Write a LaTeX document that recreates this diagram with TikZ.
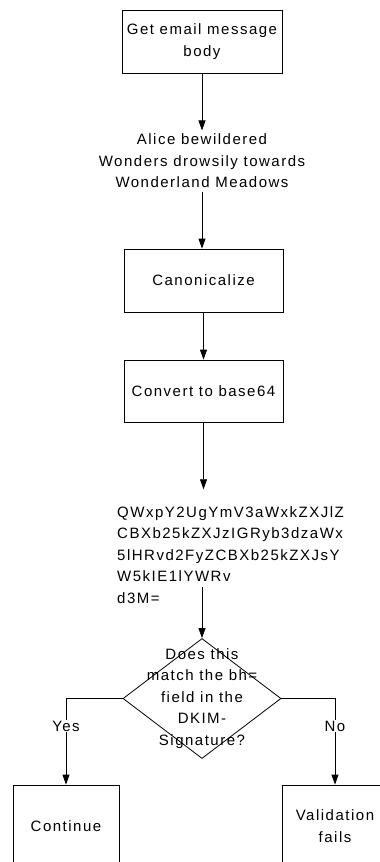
\documentclass[tikz,border=0pt]{standalone}
\usepackage{fontspec}
\setmainfont{Liberation Sans}[LetterSpace=10]
\usetikzlibrary{arrows.meta,shapes.geometric}
\tikzstyle{Step}=[rectangle, minimum width=160, minimum height=63, align=center, draw=black, line width=0.8pt]
\tikzstyle{Decision}=[diamond, minimum width=158, minimum height=120, inner sep=0, draw=black, line width=0.8pt]
\tikzstyle{Result}=[rectangle, minimum width=106, minimum height=82, align=center, draw=black, line width=0.8pt]
\tikzstyle{Flow}=[-{Triangle[length=10pt,width=7pt]}, line width=0.8pt]
\begin{document}
\begin{tikzpicture}[x=1pt, y=-1pt, font=\fontsize{15}{21.5}\selectfont]
    \useasboundingbox (0,0) rectangle (380,862);
    \clip (0,0) rectangle (380,862);
    \path
    (202,41.5) node[Step] (get) {Get email message\\body}
    (202,161) node[align=center] (body) {Alice bewildered\\Wonders drowsily towards\\Wonderland Meadows}
    (203.5,280.5) node[Step, minimum width=159] (canon) {Canonicalize}
    (203.5,391) node[Step, minimum width=159, minimum height=62] (base) {Convert to base64}
    (117,555) node[align=left, anchor=west, inner xsep=0, inner ysep=17] (hash) {QWxpY2UgYmV3aWxkZXJlZ\\CBXb25kZXJzIGRyb3dzaWx\\5lHRvd2FyZCBXb25kZXJsY\\W5kIE1lYWRv\\d3M=}
    (202,698.5) node[Decision] (match) {};

    \path (match) node[align=center] {Does this\\match the bh=\\field in the\\DKIM-\\Signature?};

    \path
    (66,826) node[Result] (cont) {Continue}
    (335,826) node[Result] (fail) {Validation\\fails};
    \coordinate (hashout) at (202,587);

    \draw[Flow] (get) -- (body);
    \draw[Flow] (body) -- (body.south |- canon.north);
    \draw[Flow] (canon) -- (base);
    \draw[Flow] (base) -- (base.south |- hash.north);
    \draw[Flow] (hashout) -- (match.north);

    \draw[Flow] (match.west) -| node[pos=0.66, fill=white, inner sep=1] {Yes} (cont.north);
    \draw[Flow] (match.east) -| node[pos=0.66, fill=white, inner sep=1] {No} (fail.north);
\end{tikzpicture}
\end{document}
